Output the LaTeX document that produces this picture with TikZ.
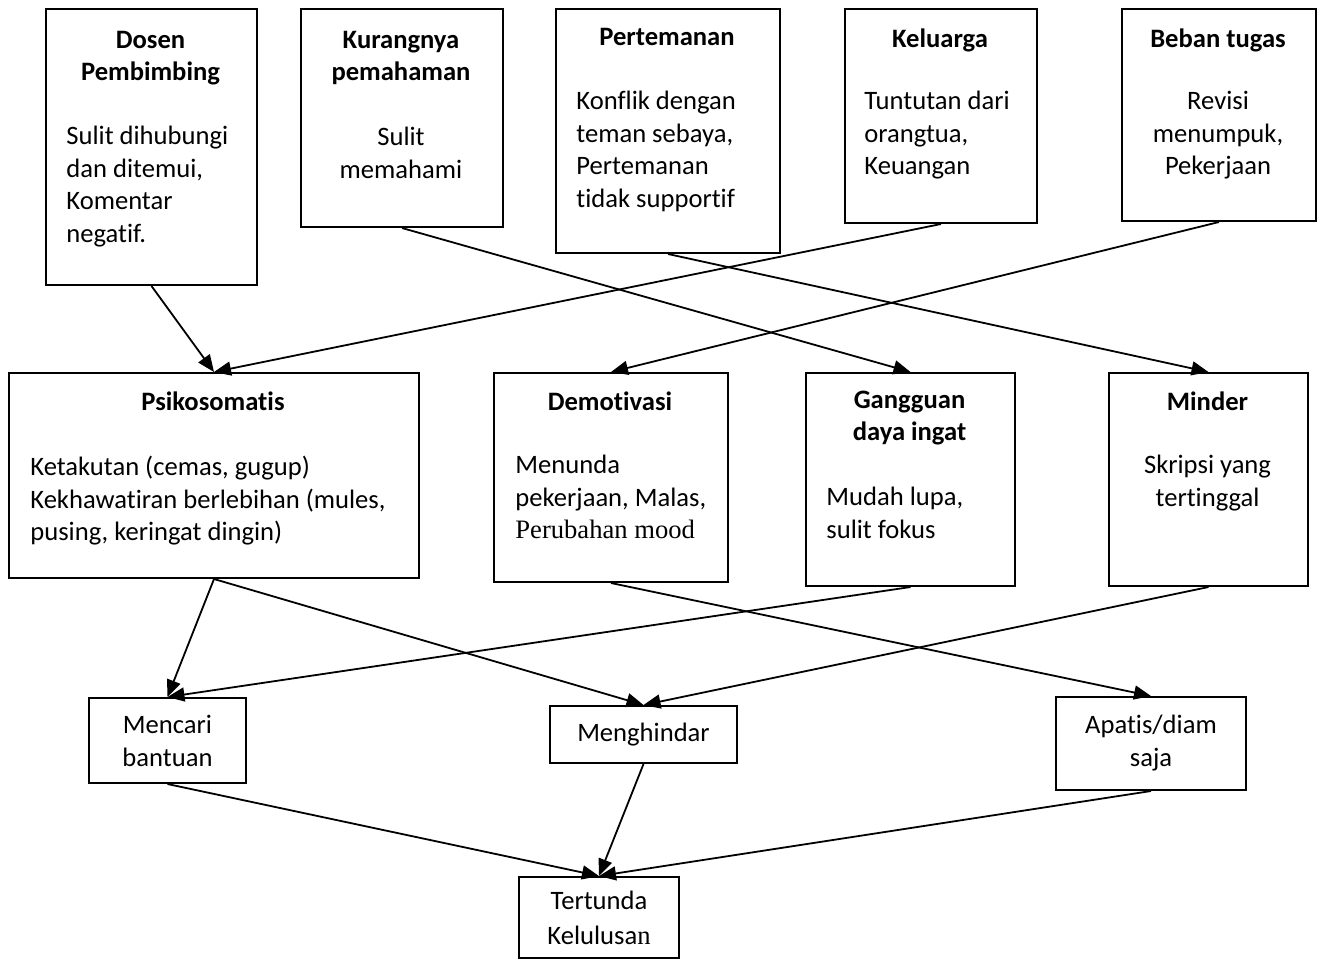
\documentclass[tikz,border=0pt]{standalone}
\usepackage{fontspec}
\setmainfont[Ligatures={NoCommon}]{Carlito}
\newfontfamily\tnrfont{Liberation Serif}
\usetikzlibrary{arrows.meta}

\begin{document}
\begin{tikzpicture}[x=0.5pt, y=-0.5pt,
    box/.style={draw, line width=1pt, inner sep=0pt, anchor=north west},
    ttl/.style={inner sep=0pt, anchor=north, align=center, font=\fontsize{13.3}{16}\selectfont\bfseries},
    txtl/.style={inner sep=0pt, anchor=north west, align=left, font=\fontsize{13.3}{16.25}\selectfont},
    txtc/.style={inner sep=0pt, anchor=north, align=center, font=\fontsize{13.3}{16.25}\selectfont},
    lbl/.style={box, align=center, font=\fontsize{13.3}{16.5}\selectfont},
    arr/.style={line width=0.9pt, -{Triangle[length=8.5pt, width=7pt]}}]
    \useasboundingbox (0,0) rectangle (1320,960);

    % Draw Top Boxes (causes)
    \node[box, minimum width=105.5pt, minimum height=138pt] (dosen) at (45,8) {};
    \node[box, minimum width=101pt, minimum height=109pt] (kurang) at (300,8) {};
    \node[box, minimum width=112pt, minimum height=122pt] (teman) at (555,8) {};
    \node[box, minimum width=96pt, minimum height=107pt] (keluarga) at (844,8) {};
    \node[box, minimum width=97pt, minimum height=106pt] (beban) at (1121,8) {};

    % -- top box texts
    \node[ttl] (dosen-t) at (150.5,31) {Dosen\\Pembimbing};
    \node[txtl] (dosen-b) at (66,126) {Sulit dihubungi\\dan ditemui,\\Komentar\\negatif.};
    \node[ttl] (kurang-t) at (401,31) {Kurangnya\\pemahaman};
    \node[txtc] (kurang-b) at (401,127) {Sulit\\memahami};
    \node[ttl] (teman-t) at (667,28) {Pertemanan};
    \node[txtl] (teman-b) at (576,91) {Konflik dengan\\teman sebaya,\\Pertemanan\\tidak supportif};
    \node[ttl] (keluarga-t) at (940,28) {Keluarga};
    \node[txtl] (keluarga-b) at (864,91) {Tuntutan dari\\orangtua,\\Keuangan};
    \node[ttl] (beban-t) at (1218,28) {Beban tugas};
    \node[txtc] (beban-b) at (1218,91) {Revisi\\menumpuk,\\Pekerjaan};

    % Draw Middle Boxes (effects)
    \node[box, minimum width=205pt, minimum height=102.5pt] (psiko) at (8,372) {};
    \node[box, minimum width=117pt, minimum height=104.5pt] (demot) at (493,372) {};
    \node[box, minimum width=104.5pt, minimum height=106.5pt] (ingat) at (805,372) {};
    \node[box, minimum width=99.5pt, minimum height=106.5pt] (minder) at (1108,372) {};

    % -- middle box texts
    \node[ttl] (psiko-t) at (213,391) {Psikosomatis};
    \node[txtl] (psiko-b) at (30,456) {Ketakutan (cemas, gugup)\\Kekhawatiran berlebihan (mules,\\pusing, keringat dingin)};
    \node[ttl] (demot-t) at (610,391) {Demotivasi};
    \node[txtl] (demot-b) at (515,455) {Menunda\\pekerjaan, Malas,\\{\tnrfont Perubahan mood}};
    \node[ttl] (ingat-t) at (909.5,391) {Gangguan\\daya ingat};
    \node[txtl] (ingat-b) at (826,487) {Mudah lupa,\\sulit fokus};
    \node[ttl] (minder-t) at (1207.5,391) {Minder};
    \node[txtc] (minder-b) at (1207.5,455) {Skripsi yang\\tertinggal};

    % Draw Bottom Boxes (coping, result)
    \node[lbl, minimum width=78.5pt, minimum height=42.5pt] (cari) at (88,697) {Mencari\\bantuan};
    \node[lbl, minimum width=93.5pt, minimum height=28.5pt] (hindar) at (549,705) {Menghindar};
    \node[lbl, minimum width=95pt, minimum height=46.5pt] (apatis) at (1055,696) {Apatis/diam\\saja};
    \node[lbl, minimum width=80pt, minimum height=40.5pt, font=\fontsize{13.3}{17.5}\selectfont] (tunda) at (518,876) {Tertunda\\Kelulusa{\tnrfont n}};

    % Draw Arrows
    % -- causes to effects
    \draw[arr] (dosen.south) -- (psiko.north);
    \draw[arr] (keluarga.south) -- (psiko.north);
    \draw[arr] (kurang.south) -- (ingat.north);
    \draw[arr] (teman.south) -- (minder.north);
    \draw[arr] (beban.south) -- (demot.north);

    % -- effects to coping
    \draw[arr] (psiko.south) -- (cari.north);
    \draw[arr] (psiko.south) -- (hindar.north);
    \draw[arr] (ingat.south) -- (cari.north);
    \draw[arr] (minder.south) -- (hindar.north);
    \draw[arr] (demot.south) -- (apatis.north);

    % -- coping to result
    \draw[arr] (cari.south) -- (tunda.north);
    \draw[arr] (hindar.south) -- (tunda.north);
    \draw[arr] (apatis.south) -- (tunda.north);
\end{tikzpicture}
\end{document}
